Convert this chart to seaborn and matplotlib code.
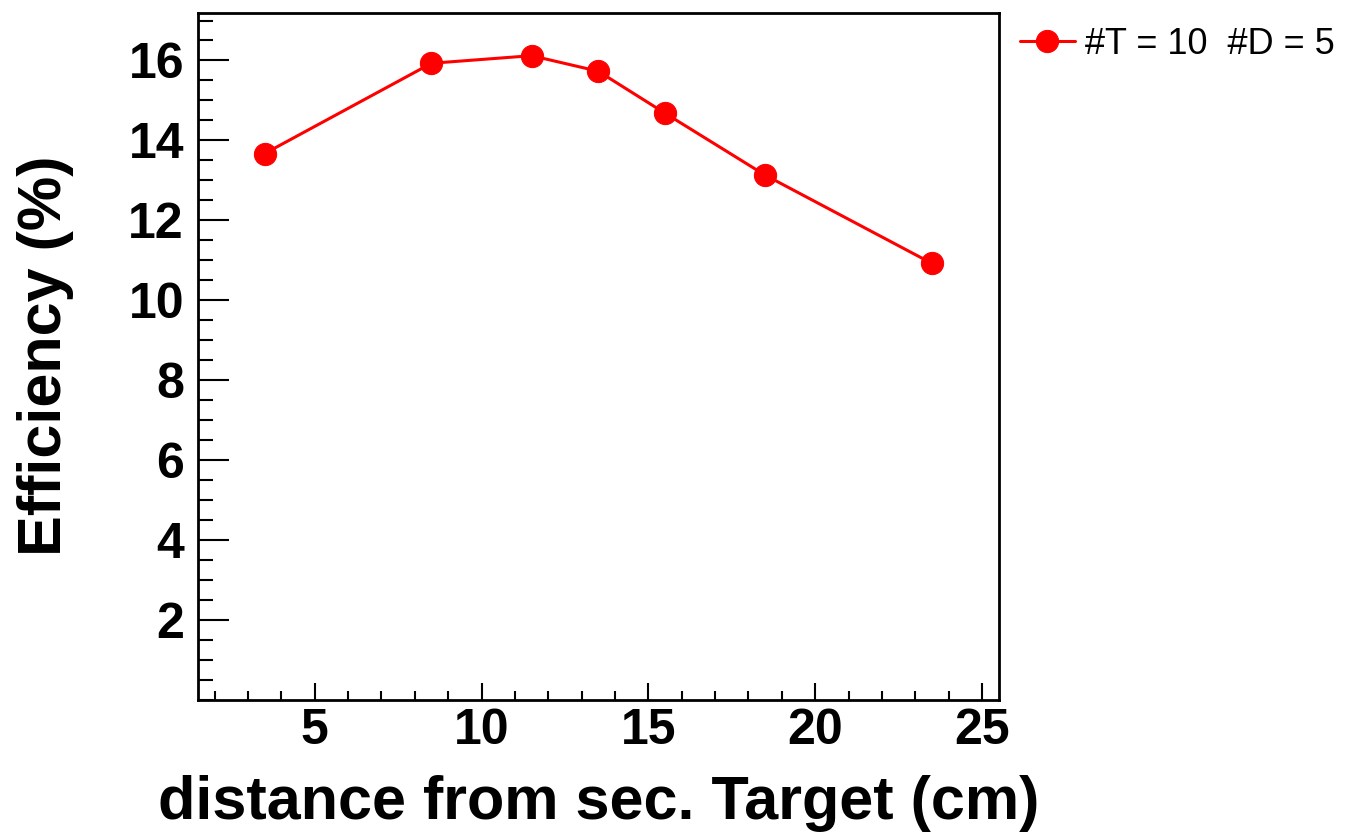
import pandas as pd
import numpy as np
import seaborn as sns
import matplotlib.pyplot as plt
from matplotlib.ticker import MultipleLocator

# Values
distance = [3.5, 8.5, 11.5, 13.5, 15.5, 18.5, 23.5]
efficiency = [13.67, 15.93, 16.12, 15.73, 14.68, 13.13, 10.92]
series_label = '#T = 10  #D = 5'
y_ticks = [2, 4, 6, 8, 10, 12, 14, 16]

data = pd.DataFrame({'distance': distance, 'efficiency': efficiency,
                     'series': series_label})

sns.set_style('ticks')
plt.rcParams['font.family'] = ['Liberation Sans', 'DejaVu Sans']
plt.rcParams['text.color'] = 'black'
plt.rcParams['axes.labelcolor'] = 'black'
plt.rcParams['xtick.color'] = 'black'
plt.rcParams['ytick.color'] = 'black'

fig = plt.figure(figsize=(13.46, 8.35), dpi=100)
ax = fig.add_axes([0.147, 0.162, 0.595, 0.823])

sns.lineplot(data=data, x='distance', y='efficiency', hue='series',
             palette=['#ff0000'], marker='o', markersize=16,
             markeredgecolor='#ff0000', linewidth=2.2, ax=ax)

ax.set_xlim(1.5, 25.5)
ax.set_ylim(0, 17.2)
ax.xaxis.set_major_locator(MultipleLocator(5))
ax.xaxis.set_minor_locator(MultipleLocator(1))
ax.set_yticks(y_ticks)
ax.yaxis.set_minor_locator(MultipleLocator(0.5))

ax.tick_params(axis='x', which='major', direction='in', length=12, width=1.5,
               labelsize=36, pad=6)
ax.tick_params(axis='x', which='minor', direction='in', length=6.5, width=1.5)
ax.tick_params(axis='y', which='major', direction='in', length=22, width=1.5,
               labelsize=36, pad=10)
ax.tick_params(axis='y', which='minor', direction='in', length=11, width=1.5)
for lab in ax.get_xticklabels() + ax.get_yticklabels():
    lab.set_fontweight('bold')

for side in ['left', 'bottom', 'right', 'top']:
    ax.spines[side].set_linewidth(2)
    ax.spines[side].set_color('black')

ax.set_xlabel('distance from sec. Target (cm)', fontsize=44, fontweight='bold')
ax.set_ylabel('Efficiency (%)', fontsize=44, fontweight='bold')
ax.yaxis.set_label_coords(-0.155, 0.5)
ax.xaxis.set_label_coords(0.5, -0.11)

ax.legend(loc='upper left', bbox_to_anchor=(1.018, 0.99), frameon=False,
          fontsize=26, handlelength=1.5, handletextpad=0.3, borderaxespad=0,
          borderpad=0.2)

plt.savefig('out.png', dpi=100)
